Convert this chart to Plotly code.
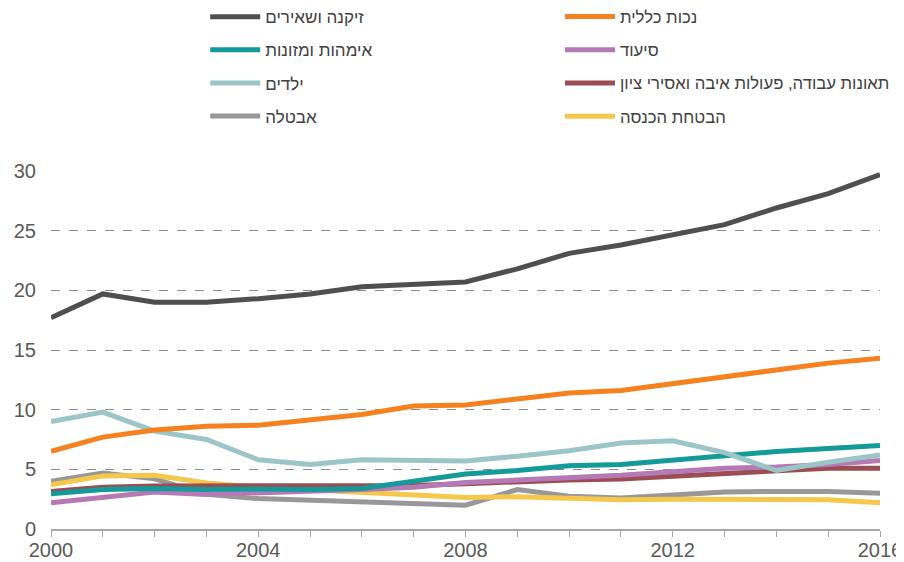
import plotly.graph_objects as go

years = list(range(2000, 2017))

names = [
    "זיקנה ושאירים",
    "נכות כללית",
    "אימהות ומזונות",
    "סיעוד",
    "ילדים",
    "תאונות עבודה, פעולות איבה ואסירי ציון",
    "אבטלה",
    "הבטחת הכנסה",
]

old_age = [17.7, 19.7, 19.0, 19.0, 19.3, 19.7, 20.3, 20.5, 20.7, 21.8, 23.1, 23.8, 24.7, 25.5, 26.9, 28.1, 29.7]
disability = [6.5, 7.7, 8.3, 8.6, 8.7, 9.1, 9.6, 10.3, 10.4, 10.9, 11.4, 11.6, 12.2, 12.7, 13.4, 13.9, 14.3]
maternity = [2.95, 3.3, 3.4, 3.3, 3.35, 3.3, 3.4, 4.0, 4.6, 4.9, 5.3, 5.4, 5.8, 6.1, 6.5, 6.75, 7.0]
nursing = [2.2, 2.7, 3.1, 2.9, 3.0, 3.1, 3.3, 3.5, 3.9, 4.1, 4.25, 4.5, 4.8, 5.1, 5.2, 5.4, 5.75]
children = [9.0, 9.8, 8.2, 7.5, 5.8, 5.4, 5.8, 5.8, 5.7, 6.1, 6.55, 7.2, 7.4, 6.4, 4.9, 5.6, 6.2]
work_injury = [3.15, 3.5, 3.6, 3.6, 3.65, 3.65, 3.65, 3.65, 3.8, 4.0, 4.1, 4.2, 4.4, 4.7, 4.9, 5.1, 5.1]
unemployment = [4.0, 4.7, 4.2, 2.9, 2.55, 2.4, 2.25, 2.1, 2.0, 3.3, 2.75, 2.6, 2.9, 3.1, 3.15, 3.15, 3.0]
income_support = [3.7, 4.45, 4.5, 3.85, 3.5, 3.3, 3.1, 2.9, 2.65, 2.7, 2.6, 2.45, 2.5, 2.45, 2.45, 2.45, 2.2]

series = [old_age, disability, maternity, nursing, children, work_injury, unemployment, income_support]
colors = ["#4f4f4f", "#f5821f", "#159a9a", "#b57ab6", "#9cc5c7", "#9b4d53", "#98989b", "#f5c84c"]

x_labels = {2000: "2000", 2004: "2004", 2008: "2008", 2012: "2012", 2016: "2016"}
y_ticks = [0, 5, 10, 15, 20, 25, 30]

fig = go.Figure()
# draw order: lower/background first so dark series on top
draw_order = [6, 7, 5, 3, 2, 4, 1, 0]
for i in draw_order:
    fig.add_trace(go.Scatter(
        x=years, y=series[i], name=names[i], mode="lines",
        line=dict(color=colors[i], width=5),
        legend="legend" if i % 2 == 0 else "legend2",
        legendgroup=f"g{i}", legendrank=i,
        hoverinfo="skip",
    ))

def legend_cfg(x, size, gap):
    return dict(
        x=x, orientation="v", yanchor="top", y=1.48, xanchor="left",
        font=dict(family="Liberation Sans, Arial, sans-serif", size=size, color="#404040"),
        tracegroupgap=gap, bgcolor="rgba(0,0,0,0)", itemwidth=50,
        traceorder="grouped",
    )

# the page body adds an 8px offset, so the figure is 8px smaller
fig.update_layout(
    width=896, height=554,
    margin=dict(l=43, r=24, t=163, b=33, autoexpand=False),
    plot_bgcolor="white", paper_bgcolor="white",
    font=dict(family="Liberation Sans, Arial, sans-serif", size=20, color="#595959"),
    showlegend=True,
    legend=legend_cfg(0.186, 17, 8),
    legend2=legend_cfg(0.614, 16.7, 8.5),
    xaxis=dict(
        range=[2000, 2016], tickmode="array", tickvals=years,
        ticktext=[x_labels.get(y, "") for y in years],
        showgrid=False, zeroline=False, automargin=False,
        showline=True, linecolor="#a6a6a6", linewidth=1.5,
        ticks="outside", ticklen=6, tickcolor="#a6a6a6",
        ticklabelstandoff=-4,
        tickfont=dict(size=20, color="#595959"),
    ),
    yaxis=dict(
        range=[0, 30], tickmode="array", tickvals=y_ticks,
        showgrid=True, gridcolor="#8c8c8c", griddash="dash", gridwidth=1,
        zeroline=False, showline=False, ticks="", automargin=False,
        ticklabelstandoff=14,
        tickfont=dict(size=20, color="#595959"),
    ),
)

fig.write_html("out.html")
